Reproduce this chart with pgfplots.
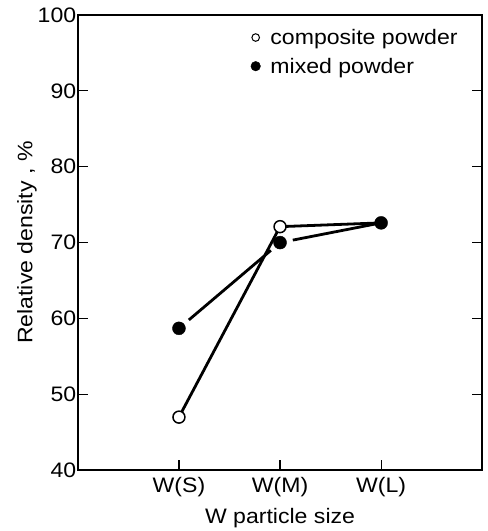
\documentclass[border=0pt]{standalone}
\usepackage{pgfplots}
\pgfplotsset{compat=1.18}
\usepackage{fontspec}
\setmainfont{Liberation Sans}[FakeStretch=1.1]
\newcommand\bigfont{\fontsize{21}{24}\selectfont}
\begin{document}
\begin{tikzpicture}
\begin{axis}[
  scale only axis, width=405pt, height=456pt,
  xmin=0, xmax=4, ymin=40, ymax=100,
  xtick={1,2,3}, xticklabels={W(S),W(M),W(L)},
  ytick={40,50,...,100},
  xtick pos=bottom, ytick pos=both, yticklabel pos=left,
  tick align=inside, major tick length=10pt,
  tick style={line width=1.2pt,black},
  axis line style={line width=1.5pt},
  tick label style={font=\bigfont},
  yticklabel style={inner sep=1.5pt},
  xticklabel style={yshift=-4pt},
  label style={font=\bigfont},
  xlabel={W particle size}, ylabel={Relative density , \%},
  xlabel style={yshift=-4pt},
  ylabel style={yshift=-4pt},
  /pgf/number format/assume math mode=true,
  legend style={draw=none, fill=none, at={(0.42,0.978)}, anchor=north west,
    font=\bigfont, row sep=8pt},
  legend cell align=left,
]
\addlegendimage{only marks, mark=*, mark size=3.8pt, mark options={fill=white, draw=black, line width=1pt}}
\addlegendentry{\hspace{8pt}composite powder}
\addlegendimage{only marks, mark=*, mark size=4.8pt, black}
\addlegendentry{\hspace{8pt}mixed powder}
% composite powder
\addplot[black, line width=2.8pt, no marks, forget plot] coordinates {(1,47.0) (2,72.1)};
\addplot[black, line width=2.8pt, no marks, forget plot] coordinates {(2,72.1) (3,72.6)};
% mixed powder
\addplot[black, line width=2.8pt, no marks, forget plot, shorten <=13pt, shorten >=12pt] coordinates {(1,58.7) (2,70.0)};
\addplot[black, line width=2.8pt, no marks, forget plot, shorten <=13pt] coordinates {(2,70.0) (3,72.6)};
\addplot[only marks, mark=*, mark size=6.5pt, black, forget plot] coordinates {(1,58.7) (2,70.0) (3,72.6)};
\addplot[only marks, mark=*, mark size=6pt, mark options={fill=white, draw=black, line width=1.5pt}, forget plot] coordinates {(1,47.0) (2,72.1)};
\end{axis}
\path ([xshift=-78pt,yshift=-60pt]current axis.south west) rectangle ([xshift=5pt,yshift=15pt]current axis.north east);
\end{tikzpicture}
\end{document}
